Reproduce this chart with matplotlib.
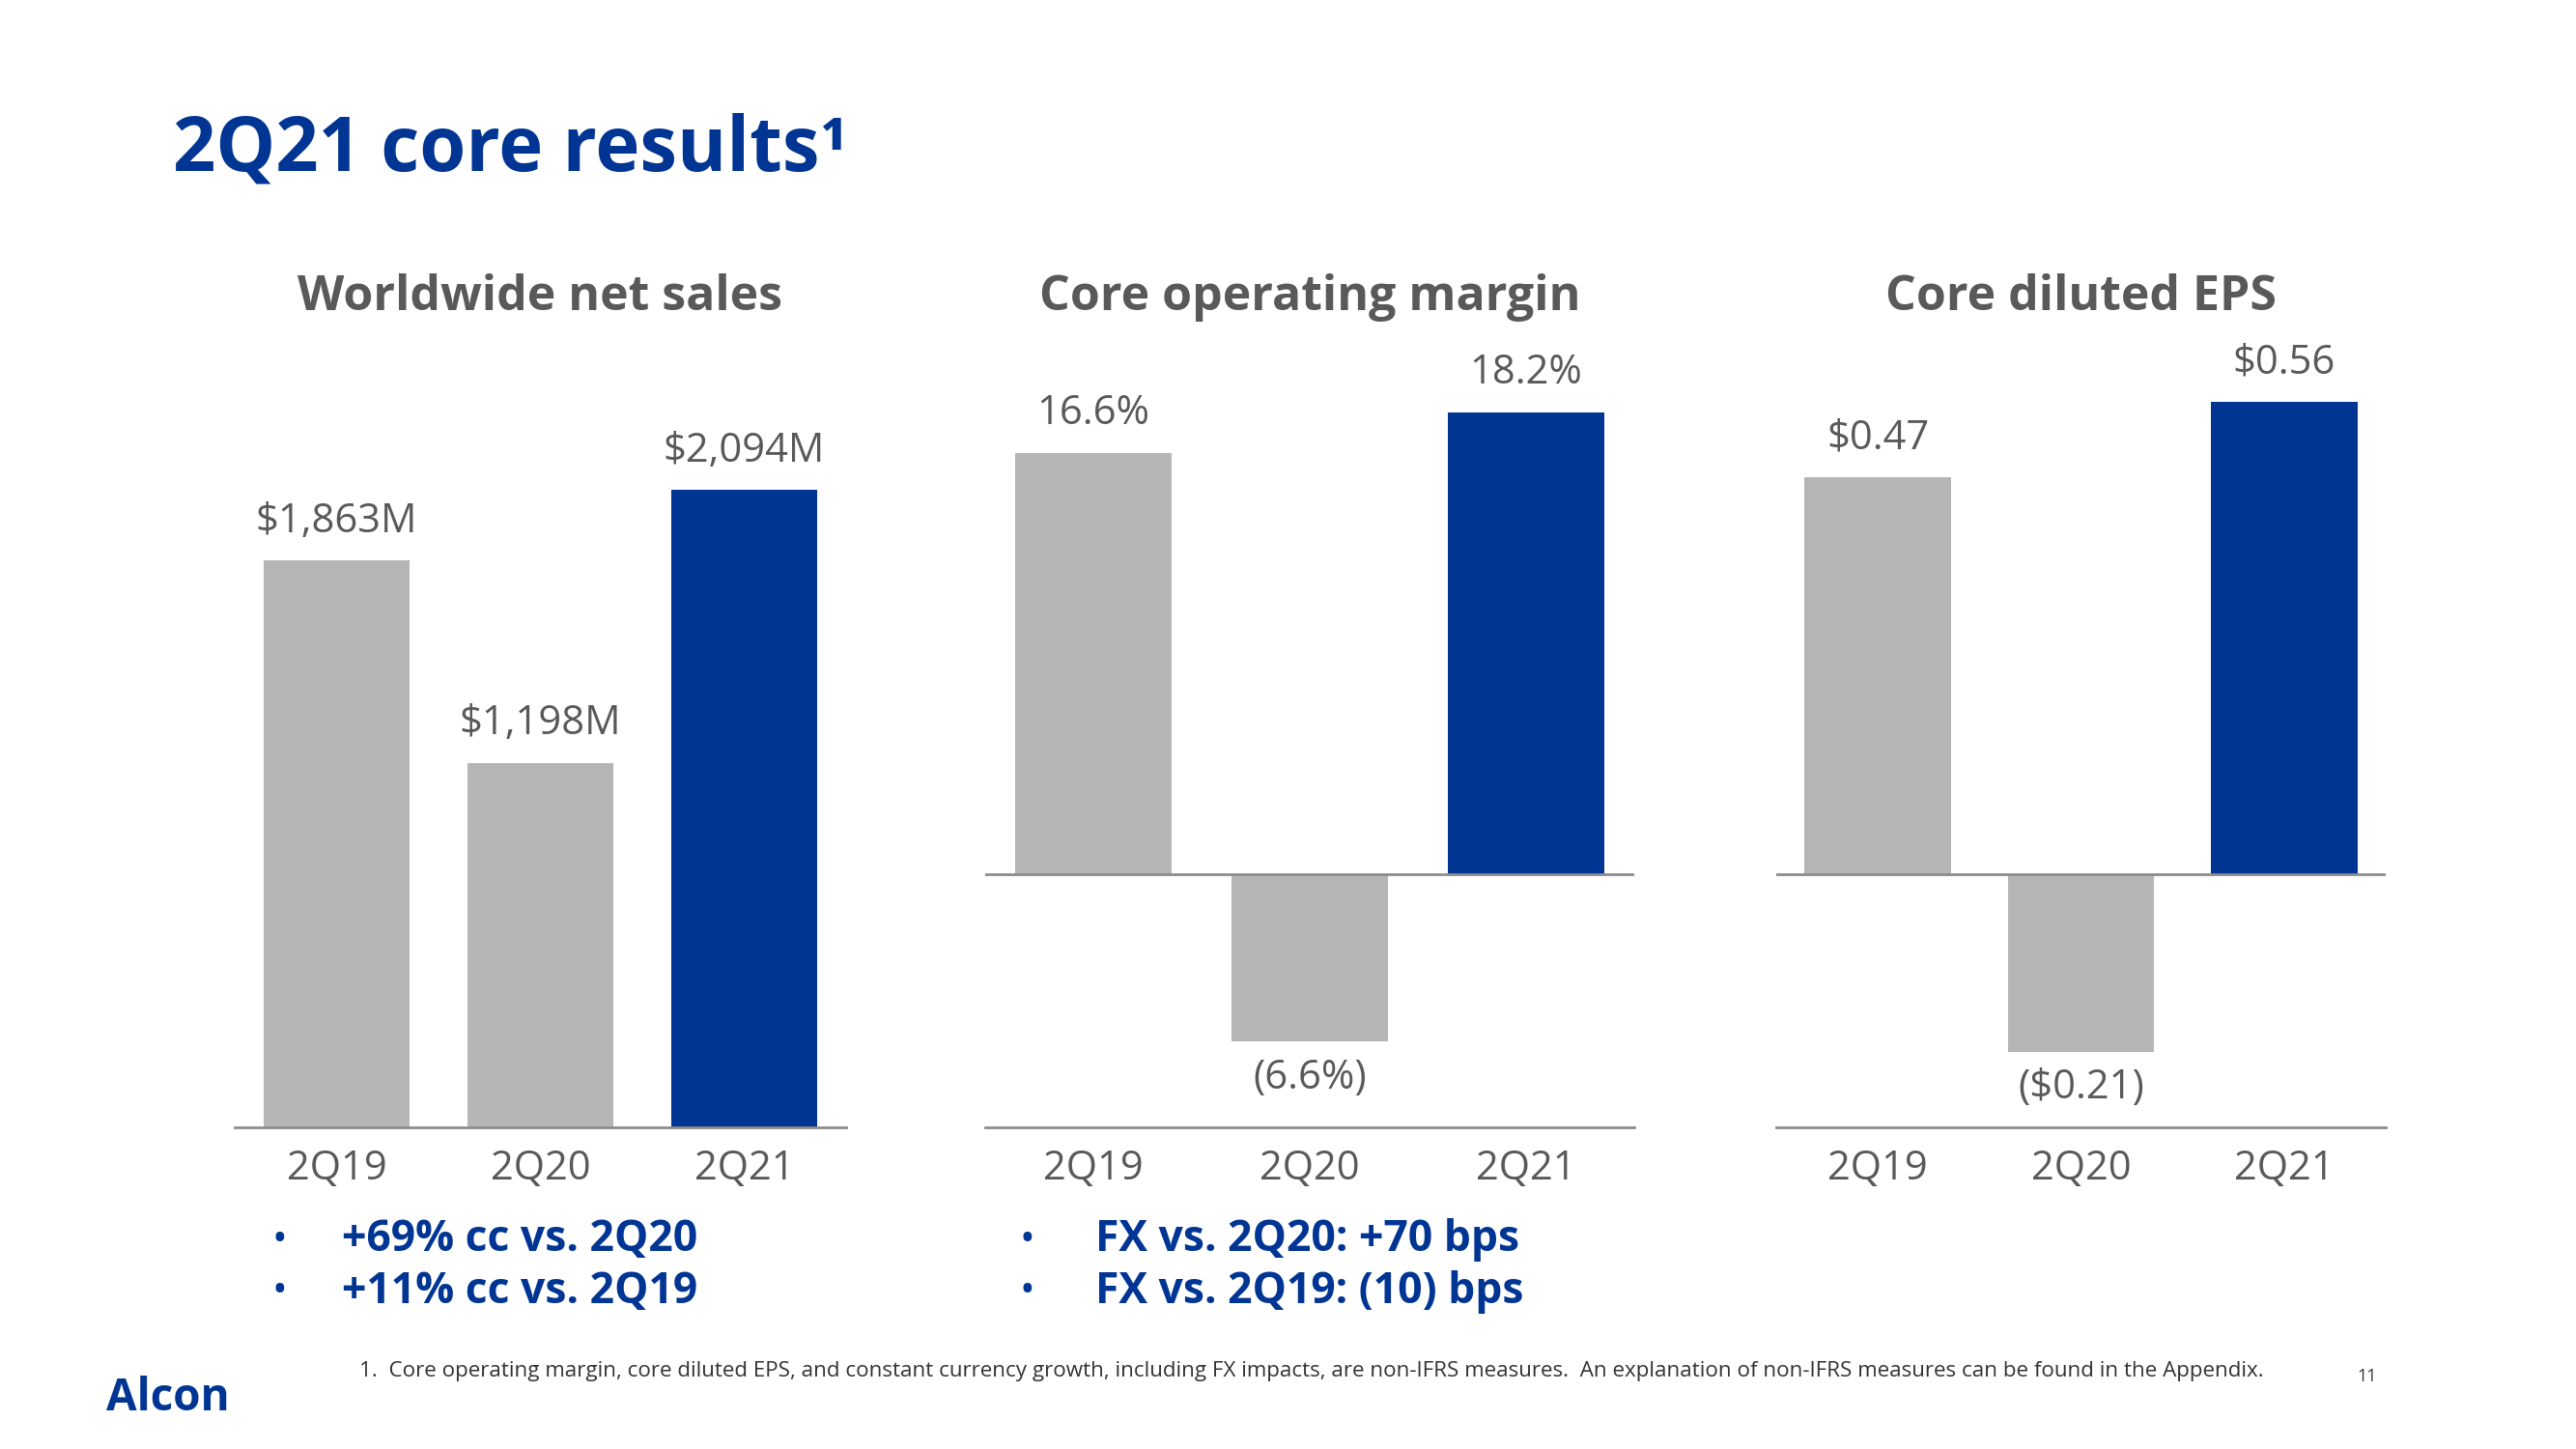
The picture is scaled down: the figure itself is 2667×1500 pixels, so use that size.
import numpy as np
from matplotlib import pyplot as plt

plt.rcParams['font.family'] = ['Open Sans', 'DejaVu Sans']

W, H = 2667, 1500
BLUE = '#003594'
GREY_BAR = '#b5b5b5'
GREY_TXT = '#595959'
LINE = '#8c8c8c'

# data
quarters = ['2Q19', '2Q20', '2Q21']
sales = [1863, 1198, 2094]
sales_lbl = ['$1,863M', '$1,198M', '$2,094M']
margin = [16.6, -6.6, 18.2]
margin_lbl = ['16.6%', '(6.6%)', '18.2%']
eps = [0.47, -0.21, 0.56]
eps_lbl = ['$0.47', '($0.21)', '$0.56']
panel_titles = ['Worldwide net sales', 'Core operating margin', 'Core diluted EPS']
bullets_left = ['+69% cc vs. 2Q20', '+11% cc vs. 2Q19']
bullets_mid = ['FX vs. 2Q20: +70 bps', 'FX vs. 2Q19: (10) bps']
footnote = ('1.  Core operating margin, core diluted EPS, and constant currency growth, including FX impacts, '
            'are non-IFRS measures.  An explanation of non-IFRS measures can be found in the Appendix.')


def fx(x):
    return x / W


def fy(y):
    return 1 - y / H


fig = plt.figure(figsize=(26.67, 15), dpi=100)
fig.patch.set_facecolor('white')

# title
fig.text(fx(179), fy(177), '2Q21 core results\u00b9', fontsize=56, fontweight='bold',
         color=BLUE, va='baseline', ha='left')

top, bottom = 340, 1167
panels = [
    (243, 876, (0, 2625), sales, sales_lbl),
    (1020, 1692, (-9.97, 21.5), margin, margin_lbl),
    (1839, 2470, (-0.2998, 0.6465), eps, eps_lbl),
]

for i, (x0, x1, ylim, vals, lbls) in enumerate(panels):
    ax = fig.add_axes([fx(x0), fy(bottom), (x1 - x0) / W, (bottom - top) / H])
    colors = [GREY_BAR, GREY_BAR, BLUE]
    xs = np.arange(len(quarters))
    ax.bar(xs, vals, width=0.72, color=colors, zorder=2)
    ax.set_xlim(-0.5, 2.5)
    ax.set_ylim(*ylim)
    for s in ['top', 'left', 'right']:
        ax.spines[s].set_visible(False)
    ax.spines['bottom'].set_color(LINE)
    ax.spines['bottom'].set_linewidth(2)
    if ylim[0] < 0:
        ax.axhline(0, color=LINE, lw=2, zorder=3)
    ax.set_yticks([])
    ax.set_xticks(xs)
    ax.set_xticklabels(quarters, fontsize=30, color=GREY_TXT)
    ax.tick_params(axis='x', length=0, pad=16)
    for x, v, l in zip(xs, vals, lbls):
        off = 29 if v >= 0 else -27
        ax.annotate(l, (x, v), xytext=(0, off), textcoords='offset points',
                    ha='center', va='center', fontsize=30, color=GREY_TXT)
    fig.text(fx((x0 + x1) / 2), fy(308), panel_titles[i], fontsize=36,
             fontweight='bold', color=GREY_TXT, ha='center', va='center')

# bullets
for j, t in enumerate(bullets_left):
    yy = fy(1284 + j * 53)
    fig.text(fx(289), yy, '\u2022', fontsize=30, color=BLUE, ha='center', va='center')
    fig.text(fx(354), yy, t, fontsize=32, fontweight='bold', color=BLUE, va='center')
for j, t in enumerate(bullets_mid):
    yy = fy(1284 + j * 53)
    fig.text(fx(1063), yy, '\u2022', fontsize=30, color=BLUE, ha='center', va='center')
    fig.text(fx(1134), yy, t, fontsize=32, fontweight='bold', color=BLUE, va='center')

# footer
fig.text(fx(372), fy(1419), footnote, fontsize=16.1, color='#333333', va='center')
fig.text(fx(2451), fy(1425), '11', fontsize=13, color='#333333', ha='center', va='center')
fig.text(fx(110), fy(1447), 'Alcon', fontsize=33, fontweight='bold', color=BLUE, va='center')

fig.savefig('out.png', dpi=100)
